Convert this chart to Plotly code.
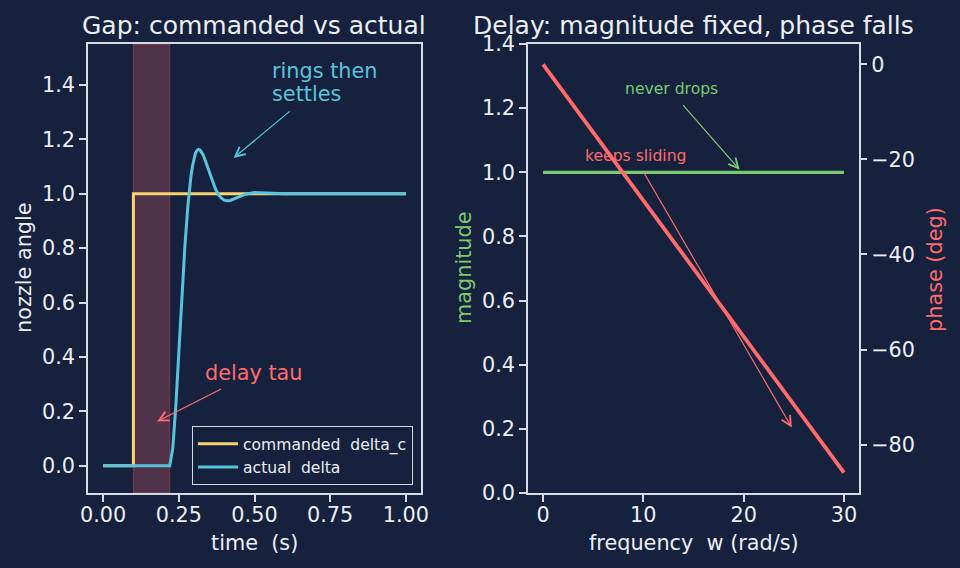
import plotly.graph_objects as go

# ---------------- data ----------------
t_cmd = [0.0, 0.10, 0.10, 1.00]
delta_cmd = [0.0, 0.0, 1.0, 1.0]

t_act = [0.00, 0.22, 0.23, 0.24, 0.25, 0.26, 0.27, 0.28, 0.285, 0.29, 0.295, 0.30, 0.305,
         0.31, 0.315, 0.32, 0.325, 0.33, 0.335, 0.34, 0.35, 0.36, 0.37, 0.38, 0.39, 0.40,
         0.41, 0.42, 0.44, 0.47, 0.50, 0.54, 0.60, 0.70, 0.85, 1.00]
delta_act = [0.0, 0.0, 0.064, 0.218, 0.416, 0.621, 0.806, 0.956, 1.015, 1.063, 1.101, 1.129, 1.149,
             1.159, 1.163, 1.161, 1.154, 1.143, 1.129, 1.113, 1.080, 1.048, 1.020, 0.998, 0.984, 0.976,
             0.974, 0.975, 0.984, 0.998, 1.004, 1.002, 1.000, 1.000, 1.000, 1.000]

delay_start = 0.10
delay_end = 0.22

w = [0, 5, 10, 15, 20, 25, 30]
magnitude = [1.0, 1.0, 1.0, 1.0, 1.0, 1.0, 1.0]
phase_deg = [0.0, -14.3, -28.6, -43.0, -57.3, -71.6, -85.9]

left_xticks = [0.0, 0.25, 0.5, 0.75, 1.0]
left_yticks = [0.0, 0.2, 0.4, 0.6, 0.8, 1.0, 1.2, 1.4]
right_xticks = [0, 10, 20, 30]
right_yticks = [0.0, 0.2, 0.4, 0.6, 0.8, 1.0, 1.2, 1.4]
phase_ticks = [0, -20, -40, -60, -80]

# ---------------- style ----------------
BG = "#16213e"
FG = "#eceef3"
FRAME = "#d5dbe4"
YEL = "#f7d46c"
CYAN = "#58c4dc"
RED = "#ff6b6b"
GREEN = "#7cc96f"
FONT = "DejaVu Sans"
TICK = 20.8

W, H = 960, 568
def px_x(p):
    return p / W
def px_y(p):
    return 1 - p / H

fig = go.Figure()

fig.add_trace(go.Scatter(x=t_cmd, y=delta_cmd, mode="lines", name="commanded  delta_c",
                         line=dict(color=YEL, width=3), xaxis="x", yaxis="y"))
fig.add_trace(go.Scatter(x=t_act, y=delta_act, mode="lines", name="actual  delta",
                         line=dict(color=CYAN, width=3), xaxis="x", yaxis="y"))

fig.add_trace(go.Scatter(x=w, y=magnitude, mode="lines", showlegend=False,
                         line=dict(color=GREEN, width=3.2), xaxis="x2", yaxis="y2"))
fig.add_trace(go.Scatter(x=w, y=phase_deg, mode="lines", showlegend=False,
                         line=dict(color=RED, width=3.8), xaxis="x2", yaxis="y3"))

fig.add_shape(type="rect", xref="x", yref="y domain", x0=delay_start, x1=delay_end, y0=0, y1=1,
              fillcolor="rgba(255,107,107,0.25)", line=dict(color="rgba(255,107,107,0.3)", width=1),
              layer="below")

def axis_common(**kw):
    d = dict(showgrid=False, zeroline=False, showline=True, linecolor=FRAME, linewidth=1.6,
             mirror=True, ticks="outside", ticklen=7, tickwidth=1.5, tickcolor=FRAME,
             automargin=False,
             tickfont=dict(family=FONT, size=TICK, color=FG))
    d.update(kw)
    return d

xd1 = [px_x(88), px_x(421)]
xd2 = [px_x(528), px_x(859)]
yd = [px_y(493), px_y(44)]

fig.update_layout(
    width=W, height=H,
    paper_bgcolor=BG, plot_bgcolor=BG,
    margin=dict(l=0, r=0, t=0, b=0, pad=0, autoexpand=False),
    font=dict(family=FONT, color=FG),
    xaxis=axis_common(domain=xd1, range=[-0.05, 1.05], tickvals=left_xticks,
                      tickformat=".2f", anchor="y", ticklabelstandoff=-5),
    yaxis=axis_common(domain=yd, range=[-0.1, 1.55], tickvals=left_yticks,
                      tickformat=".1f", anchor="x"),
    xaxis2=axis_common(domain=xd2, range=[-1.5, 31.5], tickvals=right_xticks, anchor="y2",
                       ticklabelstandoff=-5),
    yaxis2=axis_common(domain=yd, range=[0, 1.4], tickvals=right_yticks,
                       tickformat=".1f", anchor="x2"),
    yaxis3=axis_common(range=[-90.2, 4.3], tickvals=phase_ticks, anchor="x2",
                       overlaying="y2", side="right", showline=False, mirror=False),
    legend=dict(x=px_x(413), y=px_y(485), xanchor="right", yanchor="bottom",
                bgcolor=BG, bordercolor=FRAME, borderwidth=1,
                font=dict(family=FONT, size=15.6, color=FG),
                itemwidth=40, tracegroupgap=0),
    showlegend=True,
)

ann = []
def text(x, y, s, size, color, xanchor="center", yanchor="middle", angle=0,
         xref="paper", yref="paper"):
    ann.append(dict(x=x, y=y, xref=xref, yref=yref, text=s, showarrow=False,
                    xanchor=xanchor, yanchor=yanchor, textangle=angle,
                    font=dict(family=FONT, size=size, color=color)))

def arrow(x0, y0, x1, y1, color, xref, yref):
    ann.append(dict(x=x1, y=y1, ax=x0, ay=y0, xref=xref, yref=yref, axref=xref, ayref=yref,
                    text="", showarrow=True, arrowhead=5, arrowsize=1.6, arrowwidth=1.2,
                    arrowcolor=color, standoff=0, startstandoff=0))

# titles
text(px_x(254.5), px_y(25), "Gap: commanded vs actual", 25, FG)
text(px_x(693.5), px_y(25), "Delay: magnitude fixed, phase falls", 25, FG)
# axis labels
text(px_x(254.5), px_y(543), "time  (s)", TICK, FG)
text(px_x(693.5), px_y(543), "frequency  w (rad/s)", TICK, FG)
text(px_x(24), px_y(268), "nozzle angle", TICK, FG, angle=-90)
text(px_x(464), px_y(268), "magnitude", TICK, GREEN, angle=-90)
text(px_x(935), px_y(270), "phase (deg)", TICK, RED, angle=-90)

# left annotations
text(0.55, 1.451, "rings then", TICK, CYAN, xanchor="left", xref="x", yref="y")
text(0.55, 1.368, "settles", TICK, CYAN, xanchor="left", xref="x", yref="y")
arrow(0.621, 1.307, 0.431, 1.131, CYAN, "x", "y")
text(0.33, 0.340, "delay tau", TICK, RED, xanchor="left", xref="x", yref="y")
arrow(0.395, 0.285, 0.178, 0.163, RED, "x", "y")

# right annotations
text(8.0, 1.259, "never drops", 15.6, GREEN, xanchor="left", xref="x2", yref="y2")
arrow(13.83, 1.214, 19.6, 1.008, GREEN, "x2", "y2")
text(4.0, 1.052, "keeps sliding", 15.6, RED, xanchor="left", xref="x2", yref="y2")
arrow(9.94, 1.005, 24.8, 0.204, RED, "x2", "y2")

fig.update_layout(annotations=ann)

fig.write_html("out.html")
